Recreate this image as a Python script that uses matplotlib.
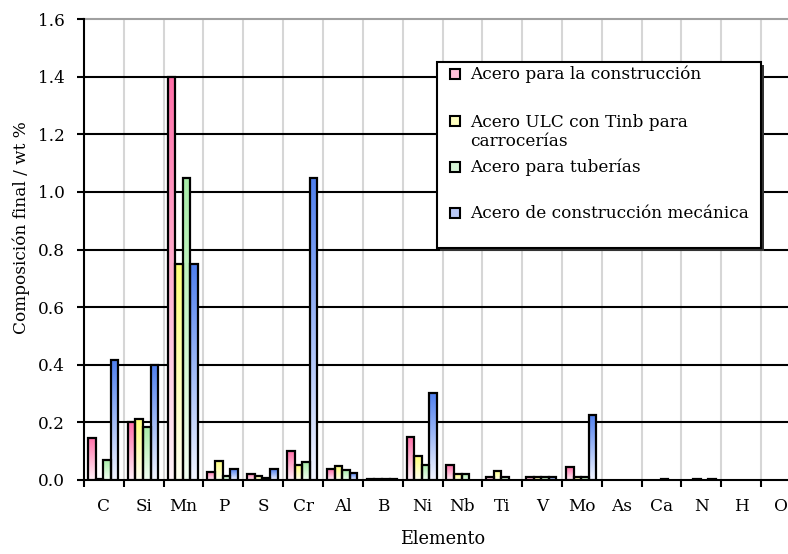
import numpy as np
import matplotlib.pyplot as plt
from matplotlib.patches import Rectangle
from matplotlib.colors import to_rgb

# ---- datos ----
elementos = ["C", "Si", "Mn", "P", "S", "Cr", "Al", "B", "Ni", "Nb",
             "Ti", "V", "Mo", "As", "Ca", "N", "H", "O"]

construccion = [0.147, 0.201, 1.40, 0.029, 0.021, 0.100, 0.037, 0.004, 0.150,
                0.052, 0.011, 0.010, 0.044, 0, 0, 0, 0, 0]
ulc_tinb = [0.005, 0.212, 0.75, 0.066, 0.015, 0.052, 0.048, 0.004, 0.083,
            0.020, 0.032, 0.010, 0.010, 0, 0, 0.004, 0, 0]
tuberias = [0.069, 0.183, 1.05, 0.014, 0.007, 0.061, 0.034, 0.004, 0.053,
            0.020, 0.011, 0.010, 0.010, 0, 0.004, 0, 0, 0]
mecanica = [0.417, 0.400, 0.75, 0.038, 0.038, 1.05, 0.023, 0.004, 0.303,
            0, 0, 0.010, 0.226, 0, 0, 0.004, 0, 0]

series = [construccion, ulc_tinb, tuberias, mecanica]
nombres = ["Acero para la construcción",
           "Acero ULC con Tinb para\ncarrocerías",
           "Acero para tuberías",
           "Acero de construcción mecánica"]
# color arriba / color abajo del degradado
colores_top = ["#ff6fa8", "#ffff78", "#a8eca8", "#4f7fee"]
colores_bot = ["#fff3f8", "#fffff2", "#f2fff2", "#f2f5ff"]

FONT = "DejaVu Serif"
FS = 12.2

W, H = 788, 554
fig = plt.figure(figsize=(W / 100, H / 100), dpi=100)
# el eje se sale un poco por la derecha, como en la imagen original
ax = fig.add_axes([84 / W, 74 / H, 717 / W, 460.8 / H])

x = np.arange(len(elementos))
ancho = 0.19
offsets = (np.arange(4) - 1.5) * ancho - 0.02


def degradado(c_top, c_bot, n=64):
    t = np.linspace(0, 1, n)[:, None]
    a = np.array(to_rgb(c_bot))
    b = np.array(to_rgb(c_top))
    img = a + (b - a) * t
    return img[:, None, :]


for s, vals in enumerate(series):
    grad = degradado(colores_top[s], colores_bot[s])
    for i, v in enumerate(vals):
        if v <= 0:
            continue
        x0 = x[i] + offsets[s] - ancho / 2
        ax.imshow(grad, extent=(x0, x0 + ancho, 0, v), origin="lower",
                  aspect="auto", zorder=3, interpolation="bilinear")
    ax.bar(x + offsets[s], [v if v > 0 else np.nan for v in vals], ancho,
           fill=False, edgecolor="black", linewidth=1.6, zorder=4)

ax.set_xlim(-0.5, len(elementos) - 0.5)
ax.set_ylim(0, 1.6)

# rejilla
for yv in np.arange(0.2, 1.5, 0.2):
    ax.axhline(yv, color="black", linewidth=1.5, zorder=1)
ax.axhline(1.6, color="#a0a0a0", linewidth=1.5, zorder=1, clip_on=False)
for xb in np.arange(0.5, len(elementos) - 0.5, 1):
    ax.axvline(xb, color="#d6d6d6", linewidth=1.5, zorder=0.5)

for side in ["top", "right"]:
    ax.spines[side].set_visible(False)
ax.spines["left"].set_linewidth(1.5)
ax.spines["bottom"].set_linewidth(1.5)

ax.set_xticks(np.arange(-0.5, len(elementos), 1))
ax.set_xticklabels([])
ax.set_xticks(x, minor=True)
ax.set_xticklabels(elementos, minor=True, fontfamily=FONT, fontsize=FS)
ax.tick_params(axis="x", which="major", direction="out", length=5, width=1.5)
ax.tick_params(axis="x", which="minor", length=0, pad=13)

ax.set_yticks(np.arange(0, 1.61, 0.2))
ax.set_yticklabels([f"{v:.1f}" for v in np.arange(0, 1.61, 0.2)],
                   fontfamily=FONT, fontsize=FS)
ax.tick_params(axis="y", direction="out", length=5, width=1.5, pad=9)

ax.set_xlabel("Elemento", fontfamily=FONT, fontsize=12.8, labelpad=11)
fig.text(21 / W, 1 - 228 / H, "Composición final / wt %", rotation=90,
         ha="center", va="center", fontfamily=FONT, fontsize=FS)

# leyenda dibujada a mano para imitar la de Excel
def fx(px):
    return px / W


def fy(py):
    return 1 - py / H


bx0, bx1, by0, by1 = 437, 761, 62, 248
fig.patches.append(Rectangle((fx(bx0 + 3), fy(by1 + 3)), fx(bx1 - bx0),
                             (by1 - by0) / H, transform=fig.transFigure,
                             facecolor="#333333", edgecolor="none", zorder=5))
fig.patches.append(Rectangle((fx(bx0), fy(by1)), fx(bx1 - bx0),
                             (by1 - by0) / H, transform=fig.transFigure,
                             facecolor="white", edgecolor="black",
                             linewidth=1.5, zorder=6))
ys_text = [74, 132, 167, 213]
ys_box = [74, 121, 167, 213]
colores_ley = ["#ffc0d8", "#ffffc0", "#d8f5d8", "#b8c8f5"]
for k, nombre in enumerate(nombres):
    fig.patches.append(Rectangle((fx(450), fy(ys_box[k] + 5)), fx(10), 10 / H,
                                 transform=fig.transFigure,
                                 facecolor=colores_ley[k], edgecolor="black",
                                 linewidth=1.5, zorder=7))
    fig.text(fx(470), fy(ys_text[k]), nombre, ha="left", va="center",
             fontfamily=FONT, fontsize=FS, zorder=8, linespacing=1.2)

fig.savefig("out.png", dpi=100)
